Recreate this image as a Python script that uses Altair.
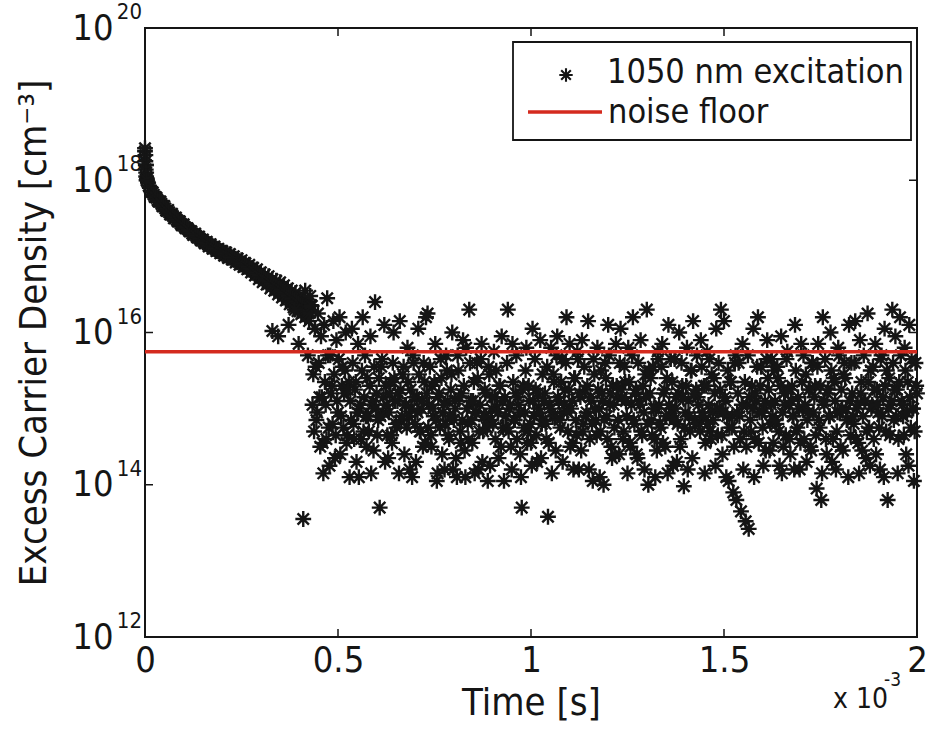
import altair as alt
import pandas as pd

# ---------------- data ----------------
# decay part, one sample every 0.005 ms starting at t = 0 (log10 of density)
decay_step_ms = 0.005
decay_logn = [
    18.38, 18.02, 17.93, 17.86, 17.84, 17.78, 17.77, 17.72, 17.72, 17.66,
    17.66, 17.60, 17.61, 17.55, 17.56, 17.50, 17.51, 17.46, 17.46, 17.41,
    17.42, 17.37, 17.37, 17.33, 17.33, 17.28, 17.30, 17.25, 17.26, 17.21,
    17.22, 17.17, 17.19, 17.13, 17.16, 17.10, 17.13, 17.07, 17.10, 17.04,
    17.07, 17.01, 17.05, 16.98, 17.03, 16.96, 17.00, 16.92, 16.97, 16.89,
    16.95, 16.86, 16.91, 16.83, 16.89, 16.79, 16.85, 16.75, 16.83, 16.70,
    16.79, 16.66, 16.76, 16.63, 16.74, 16.58, 16.70, 16.55, 16.68, 16.50,
    16.66, 16.46, 16.62, 16.42, 16.58, 16.37, 16.55, 16.33, 16.52, 16.28,
    16.47, 16.24, 16.42, 16.20, 16.40, 16.15, 16.36,
]
# second interleaved decay sample set, starting at t = 0.0025 ms
decay_b_start_ms = 0.0025
decay_b_logn = [
    18.20, 17.97, 17.90, 17.85, 17.81, 17.78, 17.74, 17.72, 17.69, 17.66,
    17.63, 17.60, 17.58, 17.55, 17.53, 17.50, 17.48, 17.46, 17.43, 17.41,
    17.39, 17.37, 17.35, 17.33, 17.30, 17.29, 17.27, 17.25, 17.23, 17.21,
    17.19, 17.18, 17.16, 17.14, 17.13, 17.11, 17.10, 17.08, 17.07, 17.05,
    17.04, 17.03, 17.01, 17.00, 16.99, 16.98, 16.96, 16.94, 16.93, 16.92,
    16.90, 16.88, 16.87, 16.86, 16.84, 16.82, 16.80, 16.79, 16.76, 16.74,
    16.72, 16.71, 16.69, 16.68, 16.66, 16.64, 16.62, 16.61, 16.59, 16.58,
    16.56, 16.54, 16.52, 16.50, 16.48, 16.46, 16.44, 16.42, 16.40, 16.38,
    16.36, 16.33, 16.31, 16.30, 16.28, 16.26,
]
# initial spike at t ~ 0
spike_t_ms = [0.000, 0.001, 0.001, 0.002, 0.002, 0.003, 0.003, 0.004]
spike_logn = [18.42, 18.33, 18.25, 18.20, 18.14, 18.10, 18.05, 18.00]
# transition points around the end of the decay
trans_t_ms = [0.330, 0.345, 0.372, 0.388, 0.398, 0.410, 0.415, 0.422, 0.428]
trans_logn = [16.02, 15.95, 16.10, 16.30, 15.85, 13.55, 16.55, 15.70, 16.48]

# noise part: rows of samples every 0.004 ms, each row starts at row_start_ms
noise_step_ms = 0.004
row_start_ms = [0.432, 0.532, 0.632, 0.732, 0.832, 0.932, 1.032, 1.132,
                1.232, 1.332, 1.432, 1.532, 1.632, 1.732, 1.832, 1.932]
noise_rows = [
    [16.35, 15.45, 16.05, 14.85, 16.25, 15.15, 15.95, 14.55, 16.10, 15.05, 16.45, 14.75, 15.70,
     15.30, 16.15, 14.35, 15.90, 14.95, 16.20, 14.90, 15.55, 15.20, 16.00, 14.65, 15.35],
    [15.10, 16.05, 14.80, 15.25, 14.30, 15.85, 15.00, 14.60, 16.20, 15.15, 14.90, 15.40, 14.70,
     15.95, 15.05, 14.45, 16.40, 15.20, 14.85, 13.70, 15.55, 14.95, 16.10, 15.30, 14.65],
    [14.95, 15.35, 14.55, 16.00, 15.10, 14.75, 15.20, 16.15, 14.85, 15.45, 14.40, 15.05, 15.80,
     14.90, 15.25, 14.10, 15.60, 14.80, 15.15, 16.05, 14.70, 15.00, 14.50, 15.35, 16.20],
    [16.25, 15.05, 14.65, 15.30, 14.90, 15.85, 14.05, 15.15, 14.75, 15.40, 14.95, 14.20, 15.70,
     15.10, 14.60, 15.25, 16.00, 14.85, 15.00, 14.10, 15.50, 14.70, 15.20, 15.90, 14.45],
    [15.80, 14.80, 16.30, 15.10, 14.55, 15.35, 14.95, 15.60, 14.20, 15.05, 15.85, 14.70, 15.25,
     14.90, 14.05, 15.45, 14.85, 15.15, 15.75, 14.60, 15.00, 14.35, 15.30, 15.95, 14.75],
    [15.15, 14.75, 16.30, 15.00, 14.50, 15.85, 14.85, 15.20, 14.60, 15.05, 14.40, 13.70, 15.30,
     14.95, 15.80, 14.70, 15.10, 14.55, 16.05, 14.90, 15.25, 14.30, 15.00, 15.90, 14.80],
    [14.85, 15.20, 14.60, 13.58, 15.05, 15.80, 14.90, 15.35, 14.45, 15.95, 15.10, 14.75, 15.65,
     14.95, 15.25, 16.20, 14.70, 15.85, 15.00, 14.55, 15.40, 14.85, 15.75, 14.20, 15.15],
    [15.90, 14.80, 15.25, 14.95, 16.15, 14.60, 15.10, 14.05, 15.45, 14.85, 15.80, 15.00, 14.70,
     15.20, 14.00, 15.60, 14.90, 16.10, 15.05, 14.50, 15.30, 14.75, 15.85, 15.15, 14.40],
    [16.05, 15.15, 14.70, 15.35, 14.90, 15.80, 14.55, 15.05, 16.20, 14.80, 15.25, 14.35, 15.10,
     15.90, 14.65, 14.95, 15.45, 16.30, 14.00, 15.20, 14.85, 15.55, 14.60, 15.00, 15.75],
    [15.05, 14.75, 15.85, 15.20, 14.50, 15.40, 16.10, 14.90, 15.00, 14.25, 15.65, 15.15, 14.80,
     16.00, 14.60, 15.30, 13.98, 14.95, 15.80, 15.10, 14.70, 15.50, 16.15, 14.85, 15.25],
    [15.15, 14.80, 15.90, 14.95, 15.30, 14.55, 15.75, 15.05, 14.70, 15.45, 14.85, 15.20, 16.05,
     14.65, 15.00, 16.30, 14.40, 16.15, 15.10, 14.90, 14.05, 15.35, 14.75, 13.90, 15.60],
    [13.80, 15.20, 14.90, 13.65, 15.85, 14.70, 13.52, 15.05, 13.42, 14.85, 15.30, 16.05, 14.60,
     15.10, 16.20, 14.95, 15.55, 14.75, 15.00, 14.45, 15.90, 15.25, 14.80, 15.65, 14.55],
    [15.10, 14.80, 15.40, 14.25, 15.95, 14.95, 15.20, 14.65, 15.75, 15.05, 14.40, 15.30, 14.90,
     16.10, 14.70, 15.15, 14.20, 15.85, 15.00, 14.60, 15.45, 14.85, 15.25, 14.50, 15.60],
    [14.95, 15.30, 13.95, 15.85, 14.75, 13.80, 16.20, 15.05, 14.60, 15.20, 14.90, 16.00, 14.30,
     15.40, 15.10, 14.70, 15.80, 14.95, 15.25, 14.45, 15.60, 15.00, 14.85, 16.10, 14.65],
    [15.20, 14.80, 16.15, 15.00, 14.55, 15.90, 15.35, 14.90, 15.10, 14.35, 16.25, 14.75, 15.50,
     15.05, 14.60, 15.85, 15.25, 14.95, 14.20, 15.70, 15.15, 16.05, 14.70, 13.80, 15.40],
    [15.05, 16.30, 14.85, 15.95, 15.25, 14.60, 16.20, 15.10, 14.90, 15.80, 14.40, 15.35, 16.10,
     14.75, 15.00, 14.05, 15.60, 15.20],
]
# second interleaved noise sample set, each row starts 0.002 ms after row_start_ms
noise_b_offset_ms = 0.002
noise_rows_b = [
    [15.05, 14.70, 15.55, 14.95, 15.60, 14.50, 15.15, 14.15, 15.35, 14.60, 15.70, 14.25, 15.20,
     14.80, 15.45, 14.65, 15.10, 15.65, 14.40, 15.30, 14.75, 15.50, 14.55, 15.25, 14.10],
    [14.85, 15.60, 14.60, 15.35, 14.95, 14.10, 15.05, 15.50, 14.70, 15.70, 14.50, 14.90, 15.30,
     14.15, 15.10, 15.55, 15.00, 14.65, 15.40, 14.90, 15.65, 15.15, 14.30, 15.05, 14.35],
    [15.20, 14.65, 15.60, 15.40, 14.80, 15.10, 14.15, 15.25, 14.90, 15.55, 15.05, 14.75, 15.35,
     14.20, 15.00, 15.70, 15.15, 14.30, 14.95, 15.45, 14.70, 15.10, 15.60, 14.55, 15.20],
    [14.75, 15.55, 14.50, 15.00, 15.35, 14.85, 14.15, 15.20, 15.65, 14.40, 15.05, 14.80, 15.50,
     14.65, 14.90, 15.45, 14.20, 15.10, 14.35, 15.70, 15.15, 14.55, 14.85, 15.30, 14.10],
    [15.00, 14.60, 15.60, 14.85, 15.10, 14.15, 14.95, 15.40, 14.70, 15.65, 14.30, 14.90, 15.20,
     14.75, 15.55, 14.25, 15.00, 14.80, 15.15, 15.50, 14.95, 15.30, 14.50, 15.10, 14.05],
    [14.90, 15.60, 14.70, 15.05, 14.20, 15.35, 14.85, 15.70, 15.15, 14.95, 14.10, 15.25, 14.75,
     15.50, 14.55, 15.30, 14.80, 14.25, 15.10, 15.65, 14.65, 15.20, 14.95, 14.35, 15.45],
    [15.10, 14.80, 15.55, 14.55, 15.00, 14.15, 15.45, 14.90, 15.70, 15.15, 14.85, 15.35, 14.30,
     15.05, 15.60, 14.95, 15.25, 14.50, 15.10, 14.20, 15.40, 14.65, 15.65, 15.20, 14.45],
    [14.70, 15.55, 14.90, 15.30, 14.20, 15.15, 14.80, 15.65, 15.00, 14.65, 15.25, 14.10, 15.50,
     15.10, 14.85, 15.40, 14.60, 15.70, 15.20, 14.35, 15.05, 14.40, 15.30, 14.85, 15.60],
    [15.25, 14.60, 15.55, 15.10, 14.15, 15.35, 14.50, 15.70, 14.85, 15.20, 14.40, 15.60, 15.05,
     14.70, 15.30, 14.20, 15.15, 14.80, 15.50, 15.40, 14.65, 15.00, 14.10, 14.45, 15.65],
    [14.80, 15.55, 14.55, 15.25, 14.90, 14.15, 15.05, 15.65, 15.35, 14.85, 15.00, 14.30, 15.20,
     14.50, 15.60, 15.15, 14.75, 15.30, 14.20, 14.90, 15.50, 14.35, 15.20, 14.80, 15.70],
    [15.05, 14.70, 15.55, 14.90, 14.15, 15.30, 14.80, 15.65, 14.60, 14.95, 15.40, 14.25, 15.00,
     15.60, 15.25, 14.65, 14.95, 15.15, 14.10, 15.50, 14.75, 15.35, 14.90, 14.50, 15.70],
    [14.95, 15.60, 14.60, 15.05, 14.20, 15.35, 14.50, 15.70, 15.15, 14.70, 15.00, 14.10, 15.20,
     15.55, 14.55, 15.30, 14.95, 14.25, 15.10, 15.65, 15.40, 14.45, 15.05, 14.90, 15.50],
    [14.85, 15.55, 14.70, 15.30, 14.15, 14.50, 15.05, 15.65, 15.25, 14.60, 15.10, 14.90, 14.20,
     15.50, 14.75, 15.00, 14.55, 15.35, 15.70, 15.05, 14.30, 14.95, 15.25, 14.45, 15.60],
    [15.15, 14.65, 15.55, 14.85, 15.30, 14.15, 15.10, 15.65, 14.40, 15.25, 14.90, 15.50, 14.60,
     15.35, 14.20, 14.95, 15.70, 14.50, 15.00, 15.45, 15.40, 14.85, 14.10, 15.10, 15.60],
    [14.90, 15.60, 14.60, 15.05, 14.15, 15.20, 14.45, 15.70, 15.10, 14.70, 15.35, 14.25, 15.00,
     15.55, 15.25, 14.40, 15.05, 14.75, 15.65, 14.90, 14.10, 15.30, 15.50, 15.00, 14.65],
    [15.10, 15.60, 15.25, 14.90, 14.15, 15.35, 15.70, 15.05, 14.65, 15.50, 14.95, 14.25, 15.15,
     15.65, 15.00, 14.70, 15.30],
]
noise_floor = 5.6e15

# axis ticks / labels
x_ticks = [0, 0.5, 1, 1.5, 2]
y_exponents = [12, 14, 16, 18, 20]

series_name = "1050 nm excitation"
floor_name = "noise floor"

# ---------------- build table ----------------
rows = []
for i, v in enumerate(decay_logn):
    rows.append({"t": round(i * decay_step_ms, 4), "n": 10 ** v})
for i, v in enumerate(decay_b_logn):
    rows.append({"t": round(decay_b_start_ms + i * decay_step_ms, 4), "n": 10 ** v})
for t, v in zip(spike_t_ms, spike_logn):
    rows.append({"t": t, "n": 10 ** v})
for t, v in zip(trans_t_ms, trans_logn):
    rows.append({"t": t, "n": 10 ** v})
for start, vals in zip(row_start_ms, noise_rows):
    for j, v in enumerate(vals):
        rows.append({"t": round(start + j * noise_step_ms, 4), "n": 10 ** v})
for start, vals in zip(row_start_ms, noise_rows_b):
    for j, v in enumerate(vals):
        rows.append({"t": round(start + noise_b_offset_ms + j * noise_step_ms, 4), "n": 10 ** v})
df = pd.DataFrame(rows)

FONT = "Liberation Sans Narrow, Arial Narrow, DejaVu Sans Condensed, Liberation Sans, Arial"
INK = "#151515"
RED = "#d42a1e"
STAR = "M-1,0L1,0M0,-1L0,1M-0.72,-0.72L0.72,0.72M-0.72,0.72L0.72,-0.72"
W, H = 772, 609

x_scale = alt.Scale(domain=[0, 2], nice=False, zero=False)
y_scale = alt.Scale(type="log", domain=[1e12, 1e20], nice=False)

points = alt.Chart(df).mark_point(
    shape=STAR, filled=False, size=250, strokeWidth=2.4, color=INK, opacity=1
).encode(
    x=alt.X("t:Q", scale=x_scale,
            axis=alt.Axis(values=x_ticks, format="~g", title="Time [s]", ticks=False,
                          domain=False, grid=False, labelFontSize=36, labelPadding=6,
                          labelFlush=False, titleFontSize=38, titlePadding=6,
                          labelColor=INK, titleColor=INK, titleFontWeight="normal",
                          labelFont=FONT, titleFont=FONT)),
    y=alt.Y("n:Q", scale=y_scale,
            axis=alt.Axis(values=[10.0 ** e for e in y_exponents], labelExpr="'10'",
                          title="Excess Carrier Density [cm⁻³]", ticks=False, domain=False,
                          grid=False, labelFontSize=36, labelPadding=32, labelFlush=False,
                          titleFontSize=38, titlePadding=18, labelColor=INK, titleColor=INK,
                          titleFontWeight="normal", labelFont=FONT, titleFont=FONT)),
)

floor = alt.Chart(pd.DataFrame({"n": [noise_floor]})).mark_rule(
    color=RED, strokeWidth=3.5
).encode(y="n:Q")

ytick_df = pd.DataFrame({"n": [10.0 ** e for e in y_exponents[1:-1]]})
ytick_left = alt.Chart(ytick_df).mark_rule(color=INK, strokeWidth=1.5).encode(
    y="n:Q", x=alt.value(0), x2=alt.value(8))
ytick_right = alt.Chart(ytick_df).mark_rule(color=INK, strokeWidth=1.5).encode(
    y="n:Q", x=alt.value(W - 8), x2=alt.value(W))
xtick_df = pd.DataFrame({"t": x_ticks[1:-1]})
xtick_bottom = alt.Chart(xtick_df).mark_rule(color=INK, strokeWidth=1.5).encode(
    x="t:Q", y=alt.value(H - 8), y2=alt.value(H))
xtick_top = alt.Chart(xtick_df).mark_rule(color=INK, strokeWidth=1.5).encode(
    x="t:Q", y=alt.value(0), y2=alt.value(8))

exp_df = pd.DataFrame({"n": [10.0 ** e for e in y_exponents], "e": [str(e) for e in y_exponents]})
exponents = alt.Chart(exp_df).mark_text(
    align="right", baseline="middle", fontSize=22, font=FONT, color=INK, dx=-3, dy=-16
).encode(y="n:Q", x=alt.value(0), text="e:N")

# legend (drawn by hand: marker + line + labels in a box)
one = pd.DataFrame({"a": [0]})
legend_box = alt.Chart(one).mark_rect(
    fill="white", stroke=INK, strokeWidth=1.8
).encode(x=alt.value(368), x2=alt.value(766), y=alt.value(14), y2=alt.value(112))
legend_star = alt.Chart(one).mark_point(
    shape=STAR, filled=False, size=180, strokeWidth=2.1, color=INK, opacity=1
).encode(x=alt.value(421), y=alt.value(47))
legend_line = alt.Chart(one).mark_rule(color=RED, strokeWidth=3.5).encode(
    x=alt.value(383), x2=alt.value(457), y=alt.value(84))
legend_text1 = alt.Chart(pd.DataFrame({"label": [series_name]})).mark_text(
    align="left", baseline="middle", fontSize=34, font=FONT, color=INK
).encode(x=alt.value(462), y=alt.value(45), text="label:N")
legend_text2 = alt.Chart(pd.DataFrame({"label": [floor_name]})).mark_text(
    align="left", baseline="middle", fontSize=34, font=FONT, color=INK
).encode(x=alt.value(463), y=alt.value(85), text="label:N")

mult_main = alt.Chart(pd.DataFrame({"s": ["x 10"]})).mark_text(
    align="left", baseline="middle", fontSize=28, font=FONT, color=INK
).encode(x=alt.value(688), y=alt.value(672), text="s:N")
mult_exp = alt.Chart(pd.DataFrame({"s": ["-3"]})).mark_text(
    align="left", baseline="middle", fontSize=19, font=FONT, color=INK
).encode(x=alt.value(739), y=alt.value(652), text="s:N")

chart = alt.layer(
    points, floor, ytick_left, ytick_right, xtick_bottom, xtick_top, exponents,
    legend_box, legend_star, legend_line, legend_text1, legend_text2, mult_main, mult_exp,
).properties(
    width=W, height=H,
    autosize=alt.AutoSizeParams(type="none"),
    padding={"left": 145, "top": 28, "right": 15, "bottom": 94},
    background="white",
).configure(
    font=FONT,
    view=alt.ViewConfig(stroke=INK, strokeWidth=2),
)

chart.save("out.html", embed_options={"renderer": "svg", "actions": False})
